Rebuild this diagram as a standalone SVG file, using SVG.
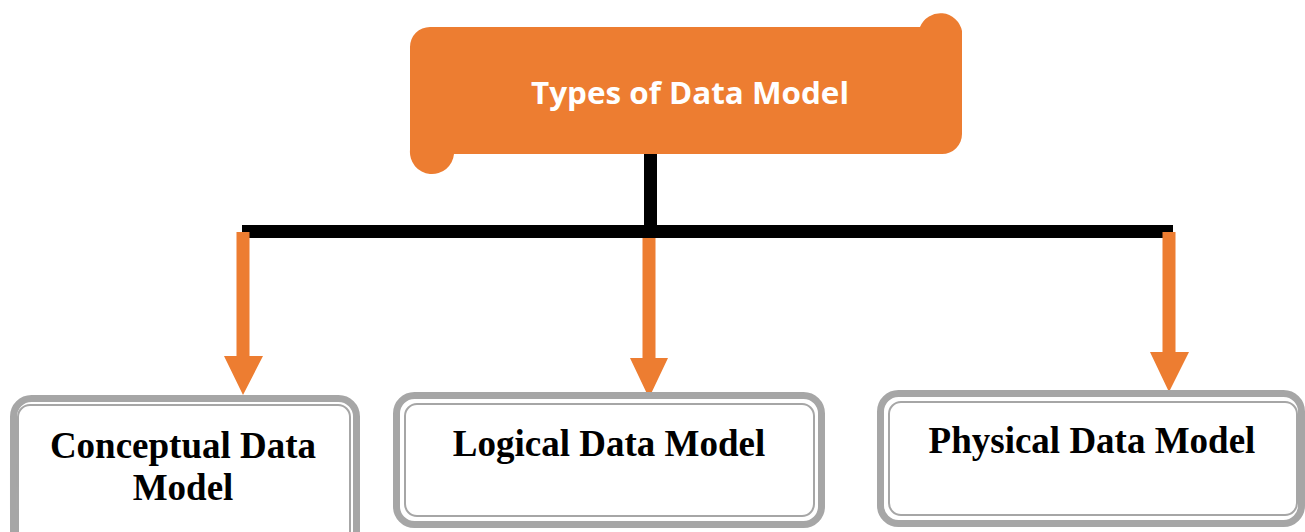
<svg xmlns="http://www.w3.org/2000/svg" width="1305" height="532" viewBox="0 0 1305 532">
<style>
.bar{fill:#000}
.arr{fill:#ED7D31}
.outer{fill:#fff;stroke:#A6A6A6;stroke-width:7}
.inner{fill:none;stroke:#A6A6A6;stroke-width:2}
.lbl{font-family:"Liberation Serif","Times New Roman",serif;font-weight:bold;font-size:37px;fill:#000;text-anchor:middle}
.title{font-family:"Open Sans","Noto Sans",sans-serif;font-weight:bold;font-size:31px;fill:#fff;text-anchor:middle}
</style>
<rect width="1305" height="532" fill="#fff"/>
<g id="connectors">
<rect class="bar" x="644" y="150" width="13" height="84"/>
<rect class="bar" x="242" y="225" width="931" height="13"/>
<polygon class="arr" points="236.5,232 249.5,232 249.5,356 263,356 243,395 224,356 236.5,356"/>
<polygon class="arr" points="642.5,238 655.5,238 655.5,358 668,358 649,398 630,358 642.5,358"/>
<polygon class="arr" points="1162.5,232 1175.5,232 1175.5,352 1189,352 1169,392 1150,352 1162.5,352"/>
</g>
<g id="types">
<path fill="#ED7D31" d="M410,47 A20,20 0 0 1 430,27 L920,27 A22,22 0 0 1 962,31 L962,134 A20,20 0 0 1 942,154 L454,154 A22,22 0 0 1 410,150 Z"/>
<text class="title" x="690" y="104" textLength="318" lengthAdjust="spacingAndGlyphs">Types of Data Model</text>
</g>
<g id="conceptual">
<rect class="outer" x="13.5" y="398.5" width="343" height="150" rx="18"/>
<rect class="inner" x="18" y="405" width="332" height="140" rx="12"/>
<text class="lbl" x="183" y="458">Conceptual Data</text>
<text class="lbl" x="183" y="500">Model</text>
</g>
<g id="logical">
<rect class="outer" x="396.5" y="395.5" width="425" height="129" rx="18"/>
<rect class="inner" x="405" y="404" width="409" height="112" rx="12"/>
<text class="lbl" x="609" y="456">Logical Data Model</text>
</g>
<g id="physical">
<rect class="outer" x="880.5" y="393.5" width="421" height="130" rx="18"/>
<rect class="inner" x="889" y="402" width="408" height="113" rx="12"/>
<text class="lbl" x="1092" y="453">Physical Data Model</text>
</g>
</svg>
